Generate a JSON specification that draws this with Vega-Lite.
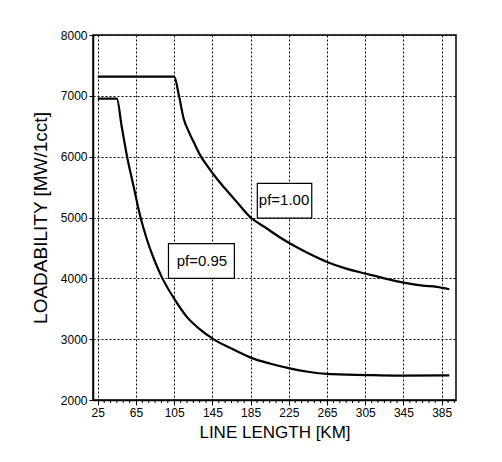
{
  "$schema": "https://vega.github.io/schema/vega-lite/v6.json",
  "autosize": "none",
  "width": 363,
  "height": 365,
  "padding": {"left": 93, "top": 35, "right": 46, "bottom": 62},
  "background": "white",
  "config": {
    "font": "Liberation Sans",
    "view": {"stroke": "black", "strokeWidth": 1.5},
    "axis": {
      "labelColor": "black", "titleColor": "black", "domainColor": "black", "tickColor": "black",
      "gridColor": "black", "gridDash": [2, 2], "gridWidth": 1, "gridOpacity": 1,
      "labelFontSize": 12, "titleFontWeight": "normal", "domainWidth": 1.5
    }
  },
  "datasets": {
    "curves": [
      {"km": 25, "mw": 7315, "pf": "1.00"},
      {"km": 105, "mw": 7315, "pf": "1.00"},
      {"km": 110, "mw": 7000, "pf": "1.00"},
      {"km": 115, "mw": 6620, "pf": "1.00"},
      {"km": 120, "mw": 6420, "pf": "1.00"},
      {"km": 126, "mw": 6220, "pf": "1.00"},
      {"km": 132, "mw": 6030, "pf": "1.00"},
      {"km": 140, "mw": 5840, "pf": "1.00"},
      {"km": 148, "mw": 5670, "pf": "1.00"},
      {"km": 158, "mw": 5480, "pf": "1.00"},
      {"km": 170, "mw": 5265, "pf": "1.00"},
      {"km": 185, "mw": 5000, "pf": "1.00"},
      {"km": 200, "mw": 4840, "pf": "1.00"},
      {"km": 215, "mw": 4680, "pf": "1.00"},
      {"km": 230, "mw": 4540, "pf": "1.00"},
      {"km": 247, "mw": 4400, "pf": "1.00"},
      {"km": 265, "mw": 4270, "pf": "1.00"},
      {"km": 285, "mw": 4160, "pf": "1.00"},
      {"km": 306, "mw": 4075, "pf": "1.00"},
      {"km": 325, "mw": 4000, "pf": "1.00"},
      {"km": 345, "mw": 3930, "pf": "1.00"},
      {"km": 365, "mw": 3880, "pf": "1.00"},
      {"km": 380, "mw": 3860, "pf": "1.00"},
      {"km": 393, "mw": 3820, "pf": "1.00"},
      {"km": 25, "mw": 6955, "pf": "0.95"},
      {"km": 45, "mw": 6955, "pf": "0.95"},
      {"km": 50, "mw": 6500, "pf": "0.95"},
      {"km": 55.7, "mw": 6000, "pf": "0.95"},
      {"km": 62.6, "mw": 5506, "pf": "0.95"},
      {"km": 69.6, "mw": 5013, "pf": "0.95"},
      {"km": 76.6, "mw": 4630, "pf": "0.95"},
      {"km": 84, "mw": 4310, "pf": "0.95"},
      {"km": 92, "mw": 4020, "pf": "0.95"},
      {"km": 104, "mw": 3690, "pf": "0.95"},
      {"km": 118, "mw": 3370, "pf": "0.95"},
      {"km": 132, "mw": 3160, "pf": "0.95"},
      {"km": 146, "mw": 3000, "pf": "0.95"},
      {"km": 167, "mw": 2830, "pf": "0.95"},
      {"km": 188, "mw": 2680, "pf": "0.95"},
      {"km": 205, "mw": 2600, "pf": "0.95"},
      {"km": 226, "mw": 2520, "pf": "0.95"},
      {"km": 245, "mw": 2465, "pf": "0.95"},
      {"km": 264, "mw": 2430, "pf": "0.95"},
      {"km": 306, "mw": 2410, "pf": "0.95"},
      {"km": 341, "mw": 2400, "pf": "0.95"},
      {"km": 393, "mw": 2405, "pf": "0.95"}
    ],
    "labels": [
      {"text": "pf=1.00", "km": 220, "mw": 5290, "x1": 192, "x2": 249, "y1": 5560, "y2": 4990},
      {"text": "pf=0.95", "km": 134, "mw": 4285, "x1": 99, "x2": 168, "y1": 4570, "y2": 4000}
    ],
    "minor": [
      {"km": 31.7}, {"km": 38.3}, {"km": 45}, {"km": 51.7}, {"km": 58.3},
      {"km": 71.7}, {"km": 78.3}, {"km": 85}, {"km": 91.7}, {"km": 98.3},
      {"km": 111.7}, {"km": 118.3}, {"km": 125}, {"km": 131.7}, {"km": 138.3},
      {"km": 151.7}, {"km": 158.3}, {"km": 165}, {"km": 171.7}, {"km": 178.3},
      {"km": 191.7}, {"km": 198.3}, {"km": 205}, {"km": 211.7}, {"km": 218.3},
      {"km": 231.7}, {"km": 238.3}, {"km": 245}, {"km": 251.7}, {"km": 258.3},
      {"km": 271.7}, {"km": 278.3}, {"km": 285}, {"km": 291.7}, {"km": 298.3},
      {"km": 311.7}, {"km": 318.3}, {"km": 325}, {"km": 331.7}, {"km": 338.3},
      {"km": 351.7}, {"km": 358.3}, {"km": 365}, {"km": 371.7}, {"km": 378.3},
      {"km": 391.7}, {"km": 398.3}
    ]
  },
  "layer": [
    {
      "data": {"name": "curves"},
      "mark": {"type": "line", "color": "black", "strokeWidth": 2.2, "clip": true, "interpolate": "monotone"},
      "encoding": {
        "x": {
          "field": "km", "type": "quantitative",
          "scale": {"domain": [20, 400], "nice": false, "zero": false},
          "axis": {
            "title": "LINE LENGTH [KM]", "titlePadding": 6, "titleFontSize": 17,
            "values": [25, 65, 105, 145, 185, 225, 265, 305, 345, 385],
            "format": "d", "labelOverlap": false, "labelBound": false,
            "tickSize": 5, "labelFlush": false, "labelPadding": 2
          }
        },
        "y": {
          "field": "mw", "type": "quantitative",
          "scale": {"domain": [2000, 8000], "nice": false, "zero": false},
          "axis": {
            "title": "LOADABILITY [MW/1cct]", "titlePadding": 10, "titleFontSize": 19,
            "values": [2000, 3000, 4000, 5000, 6000, 7000, 8000],
            "format": "d", "tickSize": 4, "labelPadding": 2, "labelOverlap": false
          }
        },
        "detail": {"field": "pf"}
      }
    },
    {
      "data": {"name": "minor"},
      "mark": {"type": "rule", "color": "black", "strokeWidth": 1, "clip": false},
      "encoding": {
        "x": {"field": "km", "type": "quantitative"},
        "y": {"datum": 2000},
        "y2": {"datum": 1950}
      }
    },
    {
      "data": {"name": "labels"},
      "mark": {"type": "rect", "fill": "white", "stroke": "black", "strokeWidth": 1.2},
      "encoding": {
        "x": {"field": "x1", "type": "quantitative"},
        "x2": {"field": "x2"},
        "y": {"field": "y1", "type": "quantitative"},
        "y2": {"field": "y2"}
      }
    },
    {
      "data": {"name": "labels"},
      "mark": {"type": "text", "fontSize": 15, "color": "black", "font": "Liberation Sans"},
      "encoding": {
        "x": {"field": "km", "type": "quantitative"},
        "y": {"field": "mw", "type": "quantitative"},
        "text": {"field": "text"}
      }
    }
  ]
}
